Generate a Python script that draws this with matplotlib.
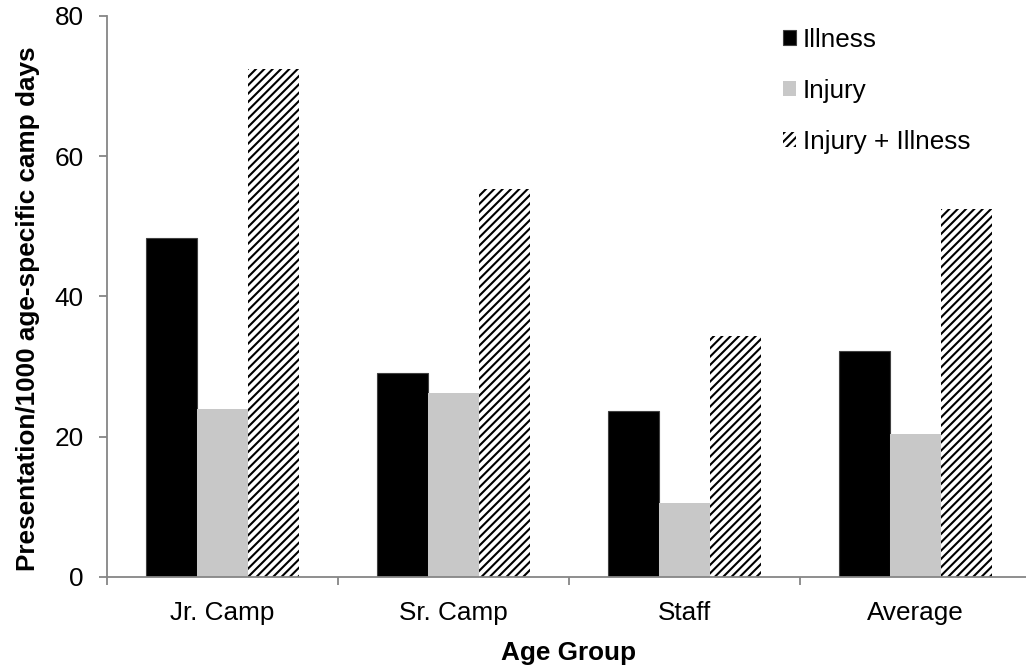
import numpy as np
import matplotlib.pyplot as plt

plt.rcParams['font.family'] = ['Liberation Sans', 'DejaVu Sans']
plt.rcParams['hatch.linewidth'] = 1.5

groups = ['Jr. Camp', 'Sr. Camp', 'Staff', 'Average']
illness = [48.4, 29.1, 23.7, 32.2]
injury = [23.9, 26.3, 10.5, 20.4]
injury_illness = [72.4, 55.4, 34.3, 52.5]

axis_grey = '#868686'
fs = 18.8

fig = plt.figure(figsize=(10.26, 6.70), dpi=100)
ax = fig.add_axes([107 / 1026, 1 - 577 / 670, 924 / 1026, 561 / 670])

x = np.arange(len(groups))
w = 0.22
ax.bar(x - w, illness, w, color='black', edgecolor='#404040', linewidth=0.8, label='Illness')
ax.bar(x, injury, w, color='#c8c8c8', linewidth=0, label='Injury')
ax.bar(x + w, injury_illness, w, color='white', edgecolor='black', linewidth=0,
       hatch='////', label='Injury + Illness')

ax.set_xlim(-0.5, 3.5)
ax.set_ylim(0, 80)
ax.set_yticks([0, 20, 40, 60, 80])
ax.set_xticks(x)
ax.set_xticklabels(groups)
ax.set_xticks(np.arange(-0.5, 4.5, 1), minor=True)

for s in ['top', 'right']:
    ax.spines[s].set_visible(False)
for s in ['left', 'bottom']:
    ax.spines[s].set_color(axis_grey)
    ax.spines[s].set_linewidth(1.3)

ax.tick_params(axis='y', direction='out', length=6, width=1.3, color=axis_grey,
               labelsize=fs, pad=11)
ax.tick_params(axis='x', which='major', length=0, labelsize=fs, pad=17)
ax.tick_params(axis='x', which='minor', direction='out', length=6, width=1.3, color=axis_grey)

ax.set_ylabel('Presentation/1000 age-specific camp days', fontsize=fs, fontweight='bold')
ax.yaxis.set_label_coords(-0.072, 0.478)
ax.set_xlabel('Age Group', fontsize=fs, fontweight='bold', labelpad=12)

fig.legend(loc='upper left', bbox_to_anchor=(783 / 1026, 1 - 28 / 670), frameon=False,
           fontsize=fs, handlelength=0.5, handleheight=0.5, handletextpad=0.25,
           labelspacing=1.03, borderpad=0, borderaxespad=0)

fig.savefig('out.png', dpi=100)
